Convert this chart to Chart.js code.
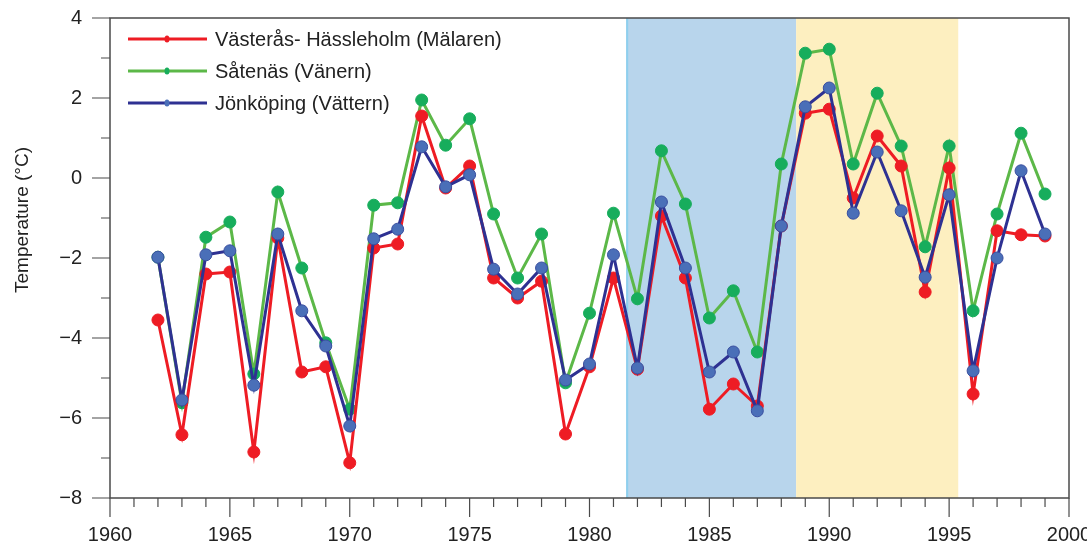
<!DOCTYPE html>
<html lang="sv">
<head>
    <meta charset="UTF-8">
    <title>Temperature</title>
    <style>
        body { margin: 0; background: #fff; }
        .box { width: 1087px; height: 542px; position: relative; }
    </style>
</head>
<body>
    <div class="box">
        <canvas id="myChart"></canvas>
    </div>
<script src="https://cdn.jsdelivr.net/npm/chart.js"></script>
<script>
    // data
    let years = [1962, 1963, 1964, 1965, 1966, 1967, 1968, 1969, 1970, 1971, 1972, 1973, 1974, 1975, 1976, 1977, 1978, 1979, 1980,
        1981, 1982, 1983, 1984, 1985, 1986, 1987, 1988, 1989, 1990, 1991, 1992, 1993, 1994, 1995, 1996, 1997, 1998, 1999];

    let vasteras = [-3.55, -6.42, -2.4, -2.35, -6.85, -1.5, -4.85, -4.72, -7.12, -1.75, -1.65, 1.55, -0.25, 0.3, -2.5, -3.0, -2.58, -6.4, -4.72,
        -2.5, -4.78, -0.95, -2.5, -5.78, -5.15, -5.7, -1.2, 1.62, 1.72, -0.5, 1.05, 0.3, -2.85, 0.25, -5.4, -1.32, -1.42, -1.45];

    let satenas = [-1.98, -5.62, -1.48, -1.1, -4.9, -0.35, -2.25, -4.12, -5.78, -0.68, -0.62, 1.95, 0.82, 1.48, -0.9, -2.5, -1.4, -5.12, -3.38,
        -0.88, -3.02, 0.68, -0.65, -3.5, -2.82, -4.35, 0.35, 3.12, 3.22, 0.35, 2.12, 0.8, -1.72, 0.8, -3.32, -0.9, 1.12, -0.4];

    let jonkoping = [-1.98, -5.55, -1.92, -1.82, -5.18, -1.4, -3.32, -4.2, -6.2, -1.52, -1.28, 0.78, -0.22, 0.08, -2.28, -2.9, -2.25, -5.05, -4.65,
        -1.92, -4.75, -0.6, -2.25, -4.85, -4.35, -5.82, -1.2, 1.78, 2.25, -0.88, 0.65, -0.82, -2.48, -0.42, -4.82, -2.0, 0.18, -1.4];

    let serieNamn = ['Västerås- Hässleholm (Mälaren)', 'Såtenäs (Vänern)', 'Jönköping (Vättern)'];

    // shaded periods [start, end]
    let blaPeriod = [1981.53, 1988.62];
    let gulPeriod = [1988.62, 1995.38];

    let xMin = 1960, xMax = 2000;
    let yMin = -8, yMax = 4;

    function punkter(v) {
        return years.map((y, i) => ({ x: y, y: v[i] }));
    }

    function minus(v) {
        return v < 0 ? '\u2212' + Math.abs(v) : '' + v;
    }

    const fontFam = '"Liberation Sans", Arial, Helvetica, sans-serif';

    const bakgrund = {
        id: 'bakgrund',
        beforeDatasetsDraw(chart) {
            const ctx = chart.ctx, a = chart.chartArea, x = chart.scales.x;
            ctx.save();
            let b0 = x.getPixelForValue(blaPeriod[0]), b1 = x.getPixelForValue(blaPeriod[1]);
            ctx.fillStyle = '#b8d5ec';
            ctx.fillRect(b0, a.top, b1 - b0, a.bottom - a.top);
            ctx.fillStyle = '#8ed0ee';
            ctx.fillRect(b0, a.top, 2, a.bottom - a.top);
            let g0 = x.getPixelForValue(gulPeriod[0]), g1 = x.getPixelForValue(gulPeriod[1]);
            ctx.fillStyle = '#fdefc0';
            ctx.fillRect(g0, a.top, g1 - g0, a.bottom - a.top);
            ctx.restore();
        },
        afterDraw(chart) {
            const ctx = chart.ctx, a = chart.chartArea;
            const x = chart.scales.x, y = chart.scales.y;
            ctx.save();
            // frame
            ctx.strokeStyle = '#4a4a4a';
            ctx.lineWidth = 1.5;
            ctx.strokeRect(a.left, a.top, a.right - a.left, a.bottom - a.top);
            // ticks
            ctx.lineWidth = 1.2;
            ctx.beginPath();
            for (let v = xMin; v <= xMax; v++) {
                let px = x.getPixelForValue(v);
                let len = v % 5 === 0 ? 19 : 9;
                ctx.moveTo(px, a.bottom);
                ctx.lineTo(px, a.bottom + len);
            }
            for (let v = yMin; v <= yMax; v++) {
                let py = y.getPixelForValue(v);
                let len = v % 2 === 0 ? 18 : 9;
                ctx.moveTo(a.left, py);
                ctx.lineTo(a.left - len, py);
            }
            ctx.stroke();

            // y title
            ctx.fillStyle = '#222';
            ctx.font = '19px ' + fontFam;
            ctx.textAlign = 'center';
            ctx.textBaseline = 'middle';
            ctx.translate(23, 220);
            ctx.rotate(-Math.PI / 2);
            ctx.fillText('Temperature (\u00B0C)', 0, 0);
            ctx.restore();

            // legend
            ctx.save();
            const farger = [['#ee1c24', '#ee1c24'], ['#5cb848', '#17ad5c'], ['#2e3192', '#4a6fb8']];
            ctx.font = '20px ' + fontFam;
            ctx.textAlign = 'left';
            ctx.textBaseline = 'middle';
            for (let i = 0; i < 3; i++) {
                let ly = 39 + i * 32;
                ctx.strokeStyle = farger[i][0];
                ctx.lineWidth = 3;
                ctx.beginPath();
                ctx.moveTo(128, ly);
                ctx.lineTo(207, ly);
                ctx.stroke();
                ctx.fillStyle = farger[i][1];
                ctx.beginPath();
                ctx.ellipse(167, ly, 2.5, 3.5, 0, 0, Math.PI * 2);
                ctx.fill();
                ctx.fillStyle = '#222';
                ctx.fillText(serieNamn[i], 215, ly + 1);
            }
            ctx.restore();
        }
    };

    const config = {
        type: 'line',
        data: {
            datasets: [{
                label: serieNamn[2],
                data: punkter(jonkoping),
                borderColor: '#2e3192',
                backgroundColor: '#4a6fb8',
                pointBorderColor: '#3a4fa0',
                pointBorderWidth: 1,
                pointRadius: 6,
                borderWidth: 3,
                order: 0
            }, {
                label: serieNamn[0],
                data: punkter(vasteras),
                borderColor: '#ee1c24',
                backgroundColor: '#ee1c24',
                pointBorderColor: '#ee1c24',
                pointBorderWidth: 1,
                pointRadius: 6,
                borderWidth: 3,
                order: 1
            }, {
                label: serieNamn[1],
                data: punkter(satenas),
                borderColor: '#5cb848',
                backgroundColor: '#17ad5c',
                pointBorderColor: '#17ad5c',
                pointBorderWidth: 1,
                pointRadius: 6,
                borderWidth: 3,
                order: 2
            }]
        },
        options: {
            responsive: true,
            maintainAspectRatio: false,
            animation: false,
            layout: { padding: { top: 18, right: 18, left: 0, bottom: 0 } },
            plugins: { legend: { display: false }, tooltip: { enabled: false } },
            elements: { line: { tension: 0 } },
            scales: {
                x: {
                    type: 'linear',
                    min: xMin,
                    max: xMax,
                    grid: { display: false },
                    border: { display: false },
                    afterFit(s) {
                        s.height = 44;
                        s.paddingLeft = 0;
                        s.paddingRight = 0;
                    },
                    ticks: {
                        stepSize: 1,
                        autoSkip: false,
                        maxRotation: 0,
                        padding: 17,
                        color: '#222',
                        font: { family: fontFam, size: 20 },
                        callback: (v) => v % 5 === 0 ? '' + v : ''
                    }
                },
                y: {
                    min: yMin,
                    max: yMax,
                    grid: { display: false },
                    border: { display: false },
                    afterFit(s) {
                        s.width = 110;
                        s.paddingTop = 0;
                        s.paddingBottom = 0;
                    },
                    ticks: {
                        stepSize: 1,
                        autoSkip: false,
                        padding: 20,
                        color: '#222',
                        font: { family: fontFam, size: 20 },
                        callback: (v) => v % 2 === 0 ? minus(v) : ''
                    }
                }
            }
        },
        plugins: [bakgrund]
    };

    let myChart = new Chart(document.getElementById('myChart'), config);
</script>
</body>
</html>
